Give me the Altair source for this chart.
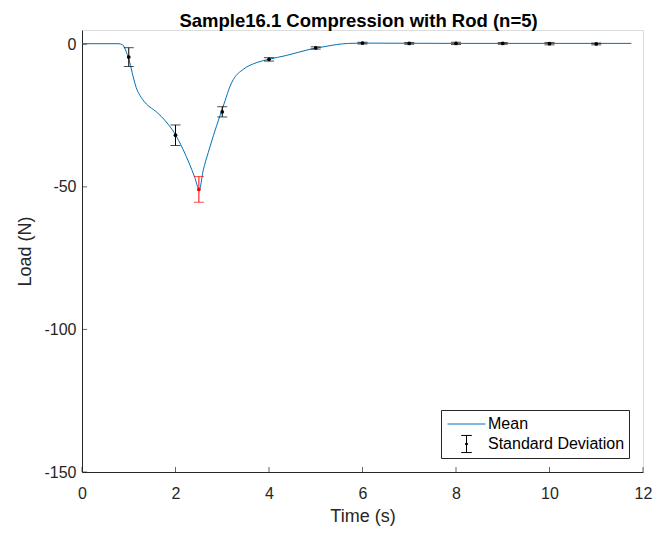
import altair as alt
import pandas as pd

# ---- data ----
time_s = [0, 0.77, 0.87, 0.95, 1.02, 1.09, 1.16, 1.27, 1.38, 1.59, 1.80, 1.98, 2.16, 2.30,
          2.41, 2.51, 2.59, 2.70, 2.81, 2.95, 3.06, 3.16, 3.24, 3.45, 3.74, 3.99, 4.38,
          4.88, 5.20, 5.45, 5.70, 6.0, 7, 8, 9, 10, 11, 11.75]
load_n = [0.2, 0.2, -0.2, -2.8, -6.3, -11.1, -15.2, -18.7, -21.0, -23.7, -27.2, -31.2, -36.8,
          -42.0, -46.6, -51.0, -44.4, -38.0, -32.1, -25.1, -19.8, -15.0, -12.3, -8.8, -6.4,
          -5.3, -3.9, -1.75, -0.8, -0.1, 0.3, 0.4, 0.35, 0.3, 0.3, 0.3, 0.3, 0.3]

eb_time = [1, 2, 2.5, 3, 4, 5, 6, 7, 8, 9, 10, 11]
eb_mean = [-4.5, -31.9, -50.9, -23.7, -5.3, -1.3, 0.4, 0.3, 0.3, 0.3, 0.2, 0.1]
eb_sd = [3.3, 3.6, 4.5, 1.8, 0.6, 0.4, 0.3, 0.3, 0.4, 0.3, 0.4, 0.3]
eb_peak = [False, False, True, False, False, False, False, False, False, False, False, False]

legend_names = ["Mean", "Standard Deviation"]
x_ticks = [0, 2, 4, 6, 8, 10, 12]
y_ticks = [0, -50, -100, -150]

FONT = "Liberation Sans"
AX = "#262626"
BLUE = "#0072BD"

curve = pd.DataFrame({"t": time_s, "load": load_n})
eb = pd.DataFrame({"t": eb_time, "mean": eb_mean, "sd": eb_sd, "peak": eb_peak})
leg = pd.DataFrame({"name": legend_names})
xt = pd.DataFrame({"t": x_ticks, "load": [-150] * len(x_ticks)})
yt = pd.DataFrame({"t": [0] * len(y_ticks), "load": y_ticks})

xscale = alt.Scale(domain=[0, 12], nice=False, zero=False)
yscale = alt.Scale(domain=[-150, 5], nice=False, zero=False)

xaxis = alt.Axis(values=x_ticks, ticks=False, grid=False, labelFontSize=16, titleFontSize=18,
                 labelColor=AX, titleColor=AX, domainColor=AX, labelPadding=13, titlePadding=6,
                 labelFont=FONT, titleFont=FONT, titleFontWeight="normal", labelFlush=False,
                 labelExpr="toString(datum.value)")
yaxis = alt.Axis(values=y_ticks, ticks=False, grid=False, labelFontSize=16, titleFontSize=18,
                 labelColor=AX, titleColor=AX, domainColor=AX, labelPadding=6, titlePadding=9,
                 labelFont=FONT, titleFont=FONT, titleFontWeight="normal", labelFlush=False,
                 labelExpr="toString(datum.value)")

X = alt.X("t:Q", scale=xscale, axis=xaxis, title="Time (s)")
Y = alt.Y("load:Q", scale=yscale, axis=yaxis, title="Load (N)")

line = alt.Chart(curve).mark_line(color=BLUE, strokeWidth=1, interpolate="monotone").encode(x=X, y=Y)

col = alt.condition("datum.peak", alt.value("#FF0000"), alt.value("black"))
ebase = alt.Chart(eb).transform_calculate(lo="datum.mean - datum.sd", hi="datum.mean + datum.sd")
rules = ebase.mark_rule(strokeWidth=1).encode(x="t:Q", y="lo:Q", y2="hi:Q", color=col)
cap_lo = ebase.mark_tick(orient="horizontal", size=10, thickness=1).encode(x="t:Q", y="lo:Q", color=col)
cap_hi = ebase.mark_tick(orient="horizontal", size=10, thickness=1).encode(x="t:Q", y="hi:Q", color=col)
dots = ebase.mark_circle(size=14, opacity=1).encode(x="t:Q", y="mean:Q", color=col)

xtick_marks = alt.Chart(xt).mark_tick(orient="vertical", size=5, thickness=1, color=AX, yOffset=-2.5).encode(x="t:Q", y="load:Q")
ytick_marks = alt.Chart(yt).mark_tick(orient="horizontal", size=5, thickness=1, color=AX, xOffset=2.5).encode(x="t:Q", y="load:Q")

LINE_PATH = "M-1,0L1,0"
EB_PATH = ("M-0.28,-0.45L0.28,-0.45M0,-0.45L0,0.45M-0.28,0.45L0.28,0.45"
           "M-0.06,0A0.06,0.06 0 1,0 0.06,0A0.06,0.06 0 1,0 -0.06,0")

legend = alt.Legend(title=None, orient="none", legendX=359, legendY=380, direction="vertical",
                    symbolSize=1444, clipHeight=20, rowPadding=0, padding=4, symbolOffset=2,
                    labelOffset=2, labelFontSize=16, labelFont=FONT, labelColor="black",
                    strokeColor=AX, fillColor="white", symbolStrokeWidth=1, labelLimit=300)

legend_layer = alt.Chart(leg).mark_point(opacity=0, filled=False, strokeWidth=1).encode(
    shape=alt.Shape("name:N", scale=alt.Scale(domain=legend_names, range=[LINE_PATH, EB_PATH]), legend=legend),
    color=alt.Color("name:N", scale=alt.Scale(domain=legend_names, range=[BLUE, "black"]), legend=legend),
)

chart = alt.layer(line, rules, cap_lo, cap_hi, dots, xtick_marks, ytick_marks, legend_layer).properties(
    width=561, height=442,
    autosize=alt.AutoSizeParams(type="none"),
    padding={"left": 82, "top": 30, "right": 21, "bottom": 61},
    title=alt.TitleParams("Sample16.1 Compression with Rod (n=5)", fontSize=18.5, fontWeight="bold",
                          font=FONT, color="black", anchor="middle", offset=0, dx=-4),
).configure_view(stroke="transparent").configure(background="white")

chart.save("out.html", embed_options={"renderer": "svg", "actions": False})
